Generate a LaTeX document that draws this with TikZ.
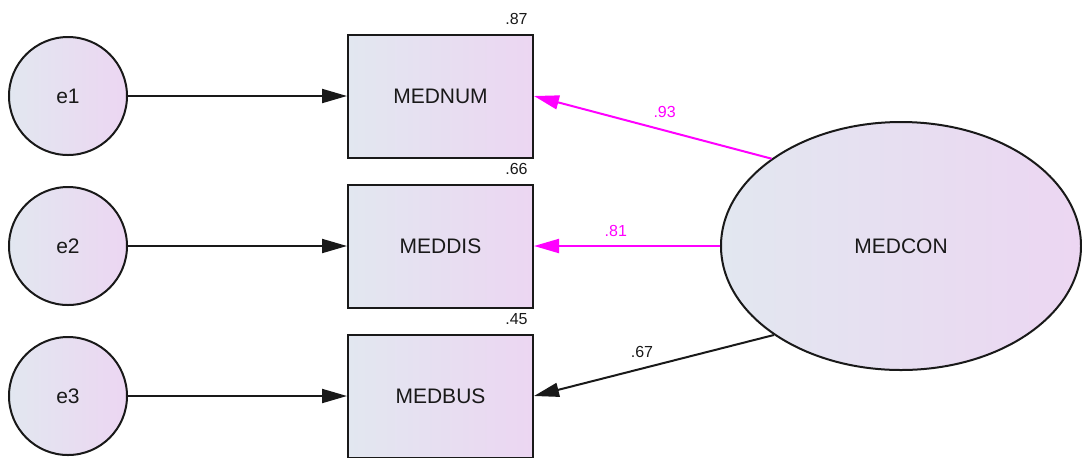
\documentclass[tikz,border=0pt]{standalone}
\usepackage{fontspec}
\setmainfont{Liberation Sans}
\definecolor{medleft}{RGB}{226,231,240}
\definecolor{medright}{RGB}{236,214,242}
\definecolor{medpink}{RGB}{255,0,255}
\definecolor{medink}{RGB}{25,25,25}
\usetikzlibrary{positioning,shapes.geometric,arrows.meta}

\tikzset{
  shadefill/.style={draw=medink,line width=1pt,left color=medleft,right color=medright,
    text=medink,font=\fontsize{10.5}{12}\selectfont},
  errnode/.style={shadefill,circle,minimum size=59pt,inner sep=0pt},
  obsbox/.style={shadefill,rectangle,minimum width=92.5pt,minimum height=61.5pt,inner sep=0pt},
  latnode/.style={shadefill,ellipse,minimum width=180pt,minimum height=124pt,inner sep=0pt},
  regarrow/.style={draw=medink,line width=1pt,-{Triangle[length=12.5pt,width=7pt]}},
  lbl/.style={font=\fontsize{8}{9}\selectfont,text=medink,inner sep=1pt}
}

\begin{document}
\begin{tikzpicture}[x=0.5pt,y=-0.5pt]
  \useasboundingbox (0,0) rectangle (1082,457);

  % indicators with their error terms
  \foreach \i/\name/\y/\rsq in {1/MEDNUM/96/.87,2/MEDDIS/246/.66,3/MEDBUS/396/.45}{
    \node[errnode] (e\i) at (68,\y) {e\i};
    \node[obsbox] (box\i) at (440.5,\y) {\name};
    \node[lbl,anchor=south east] at ([xshift=-2pt,yshift=3pt]box\i.north east) {\rsq};
    \draw[regarrow] (e\i) -- (box\i);
  }

  % latent factor
  \node[latnode] (con) at (901,246) {MEDCON};

  \draw[regarrow,draw=medpink,fill=medpink] (con.146) -- (box1.east)
    node[lbl,text=medpink,pos=0.45,above=5pt] {.93};
  \draw[regarrow,draw=medpink,fill=medpink] (con.west) -- (box2.east)
    node[lbl,text=medpink,pos=0.56,above=3pt] {.81};
  \draw[regarrow,fill=medink] (con.215) -- (box3.east)
    node[lbl,pos=0.55,above=4pt] {.67};
\end{tikzpicture}
\end{document}
